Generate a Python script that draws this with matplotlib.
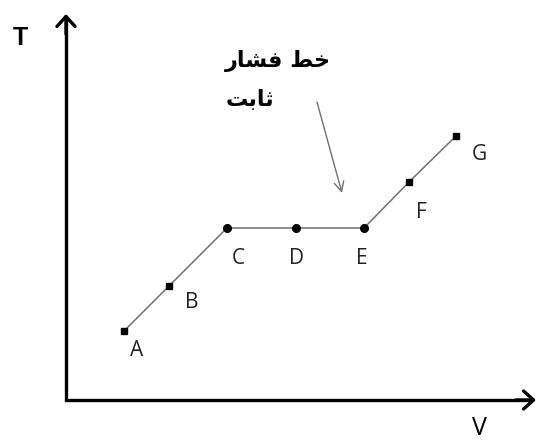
import matplotlib.pyplot as plt

# process path points on the T-V diagram (arbitrary units)
labels = ["A", "B", "C", "D", "E", "F", "G"]
volume = [5.8, 10.3, 16.1, 23.0, 29.8, 34.3, 39.0]
temperature = [6.9, 11.4, 17.2, 17.2, 17.2, 21.8, 26.4]
markers = ["s", "s", "o", "o", "o", "s", "s"]

# label offsets in pixels (dx right, dy down)
label_offsets = {"A": (13, 19), "B": (23, 16), "C": (11, 31), "D": (1, 31),
                 "E": (-2, 30), "F": (12, 30), "G": (23, 18)}

# "خط فشار" / "ثابت" written with Arabic presentation forms in visual order,
# since matplotlib does no shaping or right-to-left layout
note_line1 = "\uFEAD\uFE8E\uFEB8\uFED3 \uFEC2\uFEA7"
note_line2 = "\uFE96\uFE91\uFE8E\uFE9B"

fig = plt.figure(figsize=(5.37, 4.40), dpi=100)
ax = fig.add_axes([0, 0, 1, 1])
ax.set_xlim(-6.6, 47.1)
ax.set_ylim(-4.0, 40.0)
ax.axis("off")

# L-shaped axes with open arrow heads at the ends
ax.plot([0, 0, 46.6], [38.2, 0, 0], color="black", lw=2.4,
        solid_joinstyle="miter", solid_capstyle="butt")
head_kw = dict(arrowstyle="->,head_length=0.55,head_width=0.5", lw=2.4,
               color="black", mutation_scale=13, shrinkA=0, shrinkB=0)
ax.annotate("", xy=(47.0, 0), xytext=(45.0, 0), arrowprops=head_kw)
ax.annotate("", xy=(0, 38.6), xytext=(0, 36.6), arrowprops=head_kw)
ax.text(-4.6, 36.2, "T", fontsize=18, fontweight="bold", ha="center", va="center",
        family="Liberation Sans")
ax.text(41.3, -2.8, "V", fontsize=18, ha="center", va="center", family="Open Sans")

ax.plot(volume, temperature, color="#707070", lw=1.1, zorder=2)
for v, t, m, name in zip(volume, temperature, markers, labels):
    ax.plot(v, t, marker=m, color="black", markersize=5.0 if m == "s" else 5.5,
            linestyle="none", zorder=3)
    dx, dy = label_offsets[name]
    ax.annotate(name, (v, t), xytext=(dx, -dy), textcoords="offset pixels",
                ha="center", va="center", fontsize=15, family="Open Sans",
                color="#222222")

# constant-pressure note with pointer arrow
ax.text(15.9, 33.9, note_line1, fontsize=16, fontweight="bold", ha="left",
        va="center", family="DejaVu Sans")
ax.text(16.0, 30.0, note_line2, fontsize=16, fontweight="bold", ha="left",
        va="center", family="DejaVu Sans")
ax.annotate("", xy=(27.6, 20.7), xytext=(25.1, 29.8),
            arrowprops=dict(arrowstyle="->,head_length=0.5,head_width=0.25",
                            lw=1.0, color="#707070", mutation_scale=14,
                            shrinkA=0, shrinkB=0))

fig.savefig("out.png", dpi=100)
